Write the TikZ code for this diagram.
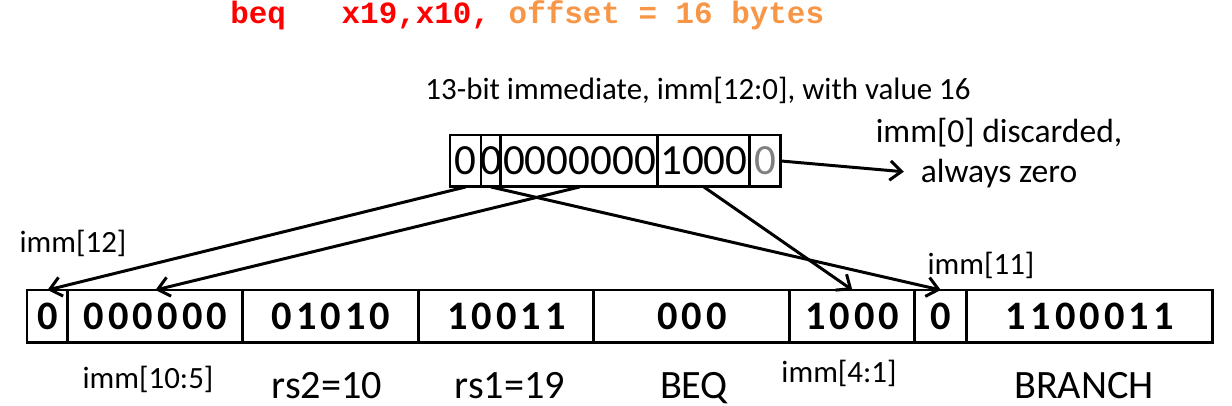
\documentclass[tikz,border=0pt]{standalone}
\usepackage{fontspec}
\setmainfont{Carlito}
\newfontfamily\codefont{Liberation Mono}
\newfontfamily\bitfont[LetterSpace=10]{Carlito}
\usetikzlibrary{positioning,arrows.meta}
\definecolor{insred}{RGB}{255,0,0}
\definecolor{offorange}{RGB}{247,150,70}
\definecolor{grey0}{RGB}{128,128,128}
\begin{document}
\begin{tikzpicture}[x=0.02cm,y=-0.02cm,
  cell/.style={draw,line width=1.7pt,inner sep=0pt,outer sep=0pt,minimum height=1.06cm},
  immcell/.style={cell,minimum height=1.04cm,font=\fontsize{24.5}{27}\selectfont},
  bitcell/.style={cell,font=\bitfont\bfseries\fontsize{23}{26}\selectfont},
  lbl/.style={font=\fontsize{17.6}{20}\selectfont,inner sep=1pt,anchor=base},
  fieldname/.style={font=\fontsize{22.9}{26}\selectfont,inner sep=1pt,anchor=base},
  arr/.style={-{Straight Barb[length=6.5pt,width=11pt]},line width=1.7pt}]
\useasboundingbox (0,0) rectangle (1232,406);
\node[anchor=base west,inner sep=0pt,font=\codefont\bfseries\fontsize{17.6}{20}\selectfont] (instr) at (230,23)
  {\textcolor{insred}{beq\ \ \ x19,x10,} \textcolor{offorange}{offset = 16 bytes}};
\node[lbl] (caption) at (698,99) {13-bit immediate, imm[12:0], with value 16};
% the immediate
\node[immcell,minimum width=0.62cm,anchor=north west] (t12) at (450,135) {0};
\node[immcell,minimum width=0.40cm,right=0pt of t12] (t11) {\makebox[0pt]{0}};
\node[immcell,minimum width=3.14cm,right=0pt of t11] (t105) {0000000};
\node[immcell,minimum width=1.84cm,right=0pt of t105] (t41) {1000};
\node[immcell,minimum width=0.62cm,right=0pt of t41,text=grey0] (t0) {0};
\node[lbl,font=\fontsize{19.1}{22}\selectfont] (disc1) at (999,142) {imm[0] discarded,};
\node[lbl,font=\fontsize{19.1}{22}\selectfont] (disc2) at (999,182) {always zero};
% the instruction
\node[bitcell,minimum width=0.82cm,anchor=north west] (b12) at (27,290) {0};
\node[bitcell,minimum width=3.5cm,right=0pt of b12] (b105) {000000};
\node[bitcell,minimum width=3.52cm,right=0pt of b105] (rs2) {01010};
\node[bitcell,minimum width=3.5cm,right=0pt of rs2] (rs1) {10011};
\node[bitcell,minimum width=3.92cm,right=0pt of rs1] (f3) {000};
\node[bitcell,minimum width=2.5cm,right=0pt of f3] (b41) {1000};
\node[bitcell,minimum width=1.04cm,right=0pt of b41] (b11) {0};
\node[bitcell,minimum width=4.92cm,right=0pt of b11] (opc) {1100011};
\node[lbl] (l12) at (73,252) {imm[12]};
\node[lbl] (l11) at (981,274) {imm[11]};
\node[lbl] (l105) at (148,388) {imm[10:5]};
\node[lbl] (l41) at (839,382) {imm[4:1]};
\node[fieldname] (nrs2) at (327,398) {rs2=10};
\node[fieldname] (nrs1) at (510,398) {rs1=19};
\node[fieldname] (nf3) at (694,398) {BEQ};
\node[fieldname] (nopc) at (1084,398) {BRANCH};
\draw[arr] (t12.south) -- (b12.north);
\draw[arr] (t105.south) -- (b105.north);
\draw[arr] (t11.south) -- (b11.north);
\draw[arr] (t41.south) -- (b41.north);
\draw[arr,shorten >=8.5pt] (t0.east) -- (disc2.west);
\end{tikzpicture}
\end{document}
